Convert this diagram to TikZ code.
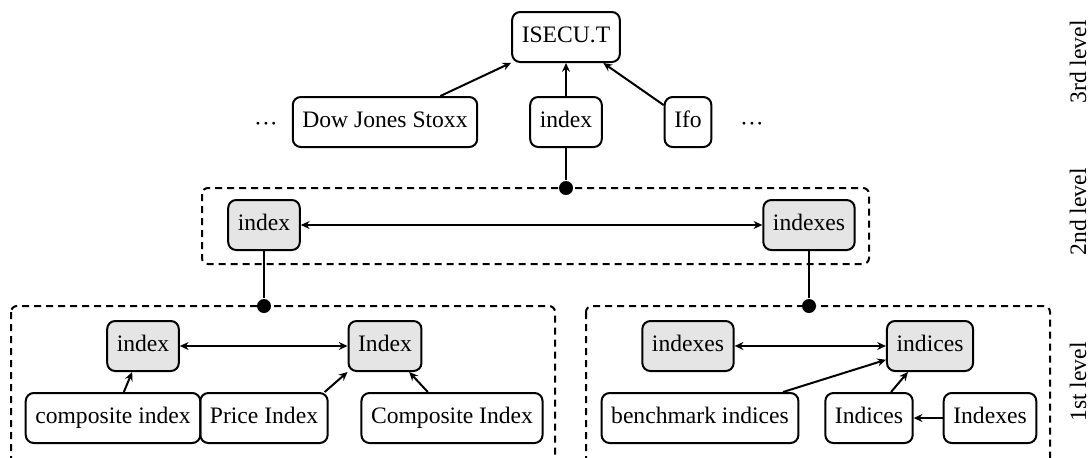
\documentclass[tikz,border=0pt]{standalone}
\usepackage{fontspec}
\setmainfont{Liberation Serif}
\usetikzlibrary{arrows.meta}
\begin{document}
\begin{tikzpicture}[
		x=0.5pt,
		y=-0.5pt,
		font=\fontsize{11.8}{14}\selectfont,
		>={Stealth[length=4.4pt,width=4pt,inset=1.5pt]},
		thick
	]
	% ===== COLOURS =====
	\definecolor{FillWord}{RGB}{229,229,229}
	\definecolor{LineDark}{RGB}{0,0,0}

	% ===== STYLES =====
	\tikzset{
		WordBox/.style={draw=LineDark,line width=1pt,rounded corners=4pt,
			minimum height=25pt,inner xsep=4.8pt,text height=8.4pt,text depth=2.6pt},
		KeyBox/.style={WordBox,fill=FillWord},
		LevelBox/.style={draw=LineDark,line width=1pt,rounded corners=3pt,
			dash pattern=on 3.5pt off 2.5pt},
		JoinDot/.style={circle,fill=LineDark,inner sep=0pt,minimum size=7pt},
		Link/.style={->,line width=1pt},
		BothLink/.style={<->,line width=1pt}
	}

	\useasboundingbox (0,0) rectangle (1091,457);

	% ===== LEVEL FRAMES =====
	\draw[LevelBox] (202,188) rectangle (869,264);
	\draw[LevelBox] (11,306) rectangle (555,480);
	\draw[LevelBox] (586,306) rectangle (1050,480);

	% ===== 3RD LEVEL =====
	\node[WordBox] (isecu) at (566,37) {ISECU.T};
	\node[WordBox] (dow) at (385,122) {Dow Jones Stoxx};
	\node[WordBox] (idxTop) at (566,122) {index};
	\node[WordBox] (ifo) at (688,122) {Ifo};
	\node (dotsL) at (266,127) {···};
	\node (dotsR) at (752,127) {···};

	\draw[Link] (dow) -- (isecu);
	\draw[Link] (idxTop) -- (isecu);
	\draw[Link] (ifo) -- (isecu);

	% ===== 2ND LEVEL =====
	\node[JoinDot] (dotTop) at (566,188) {};
	\node[KeyBox] (idxMid) at (264,225) {index};
	\node[KeyBox] (idxsMid) at (809,225) {indexes};

	\draw[line width=1pt] (idxTop) -- (dotTop);
	\draw[BothLink] (idxMid) -- (idxsMid);

	% ===== 1ST LEVEL, LEFT =====
	\node[JoinDot] (dotLeft) at (264,306) {};
	\node[KeyBox] (idxLow) at (143,346) {index};
	\node[KeyBox] (IdxLow) at (385,346) {Index};
	\node[WordBox] (compLow) at (113,418) {composite index};
	\node[WordBox] (priceLow) at (264,418) {Price Index};
	\node[WordBox] (CompLow) at (452,418) {Composite Index};

	\draw[line width=1pt] (idxMid) -- (dotLeft);
	\draw[BothLink] (idxLow) -- (IdxLow);
	\draw[Link] (compLow) -- (idxLow);
	\draw[Link] ([xshift=-2pt]priceLow.north east) -- (IdxLow.south west);
	\draw[Link] (CompLow) -- (IdxLow);

	% ===== 1ST LEVEL, RIGHT =====
	\node[JoinDot] (dotRight) at (809,306) {};
	\node[KeyBox] (idxsLow) at (688,346) {indexes};
	\node[KeyBox] (indicesLow) at (930,346) {indices};
	\node[WordBox] (benchLow) at (700,418) {benchmark indices};
	\node[WordBox] (IndicesLow) at (869,418) {Indices};
	\node[WordBox] (IndexesLow) at (990,418) {Indexes};

	\draw[line width=1pt] (idxsMid) -- (dotRight);
	\draw[BothLink] (idxsLow) -- (indicesLow);
	\draw[Link] (benchLow) -- (indicesLow);
	\draw[Link] (IndicesLow) -- (indicesLow);
	\draw[Link] (IndexesLow) -- (IndicesLow);

	% ===== LEVEL NAMES =====
	\node[rotate=90] (lvlThree) at (1078,62) {3rd level};
	\node[rotate=90] (lvlTwo) at (1078,212) {2nd level};
	\node[rotate=90] (lvlOne) at (1078,382) {1st level};

\end{tikzpicture}
\end{document}
